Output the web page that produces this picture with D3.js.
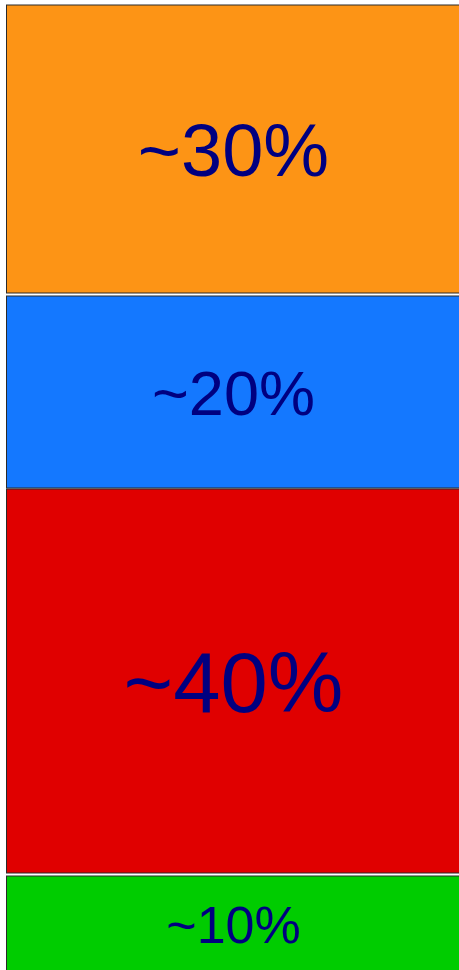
<!DOCTYPE html>
<html><head><meta charset="utf-8">
<script src="https://cdn.jsdelivr.net/npm/d3@7"></script>
<style>html,body{margin:0;padding:0;background:#fff;overflow:hidden}</style>
</head><body>
<svg id="c" width="459" height="970"></svg>
<script>
const categories = ["A", "B", "C", "D"];
const values = [30, 20, 40, 10];
const labels = ["~30%", "~20%", "~40%", "~10%"];
const colors = ["#FD9415", "#1478FF", "#E00000", "#00CC00"];
const gaps = [0, 3, 1, 3];

const svg = d3.select("#c");
const total = d3.sum(values);
const y = d3.scaleLinear().domain([0, total]).range([5, 965]);
const fs = d3.scaleLinear().domain([10, 40]).range([52, 85]);

let cum = 0, off = 0;
const rows = values.map((v, i) => {
  off += gaps[i];
  const r = {v, i, y0: y(cum) + off, y1: y(cum + v) + off};
  cum += v;
  return r;
});

svg.selectAll("rect").data(rows).join("rect")
  .attr("x", 6.5).attr("width", 454)
  .attr("y", d => d.y0).attr("height", d => d.y1 - d.y0)
  .attr("fill", d => colors[d.i])
  .attr("stroke", "#2a2a2a").attr("stroke-width", 1);

svg.selectAll("text").data(rows).join("text")
  .attr("x", 233.5)
  .attr("y", d => (d.y0 + d.y1) / 2 + 0.36 * fs(d.v))
  .attr("text-anchor", "middle")
  .attr("font-family", "Liberation Sans, Arial, sans-serif")
  .attr("font-size", d => fs(d.v))
  .attr("fill", "#000080")
  .text(d => labels[d.i]);
</script>
</body></html>
